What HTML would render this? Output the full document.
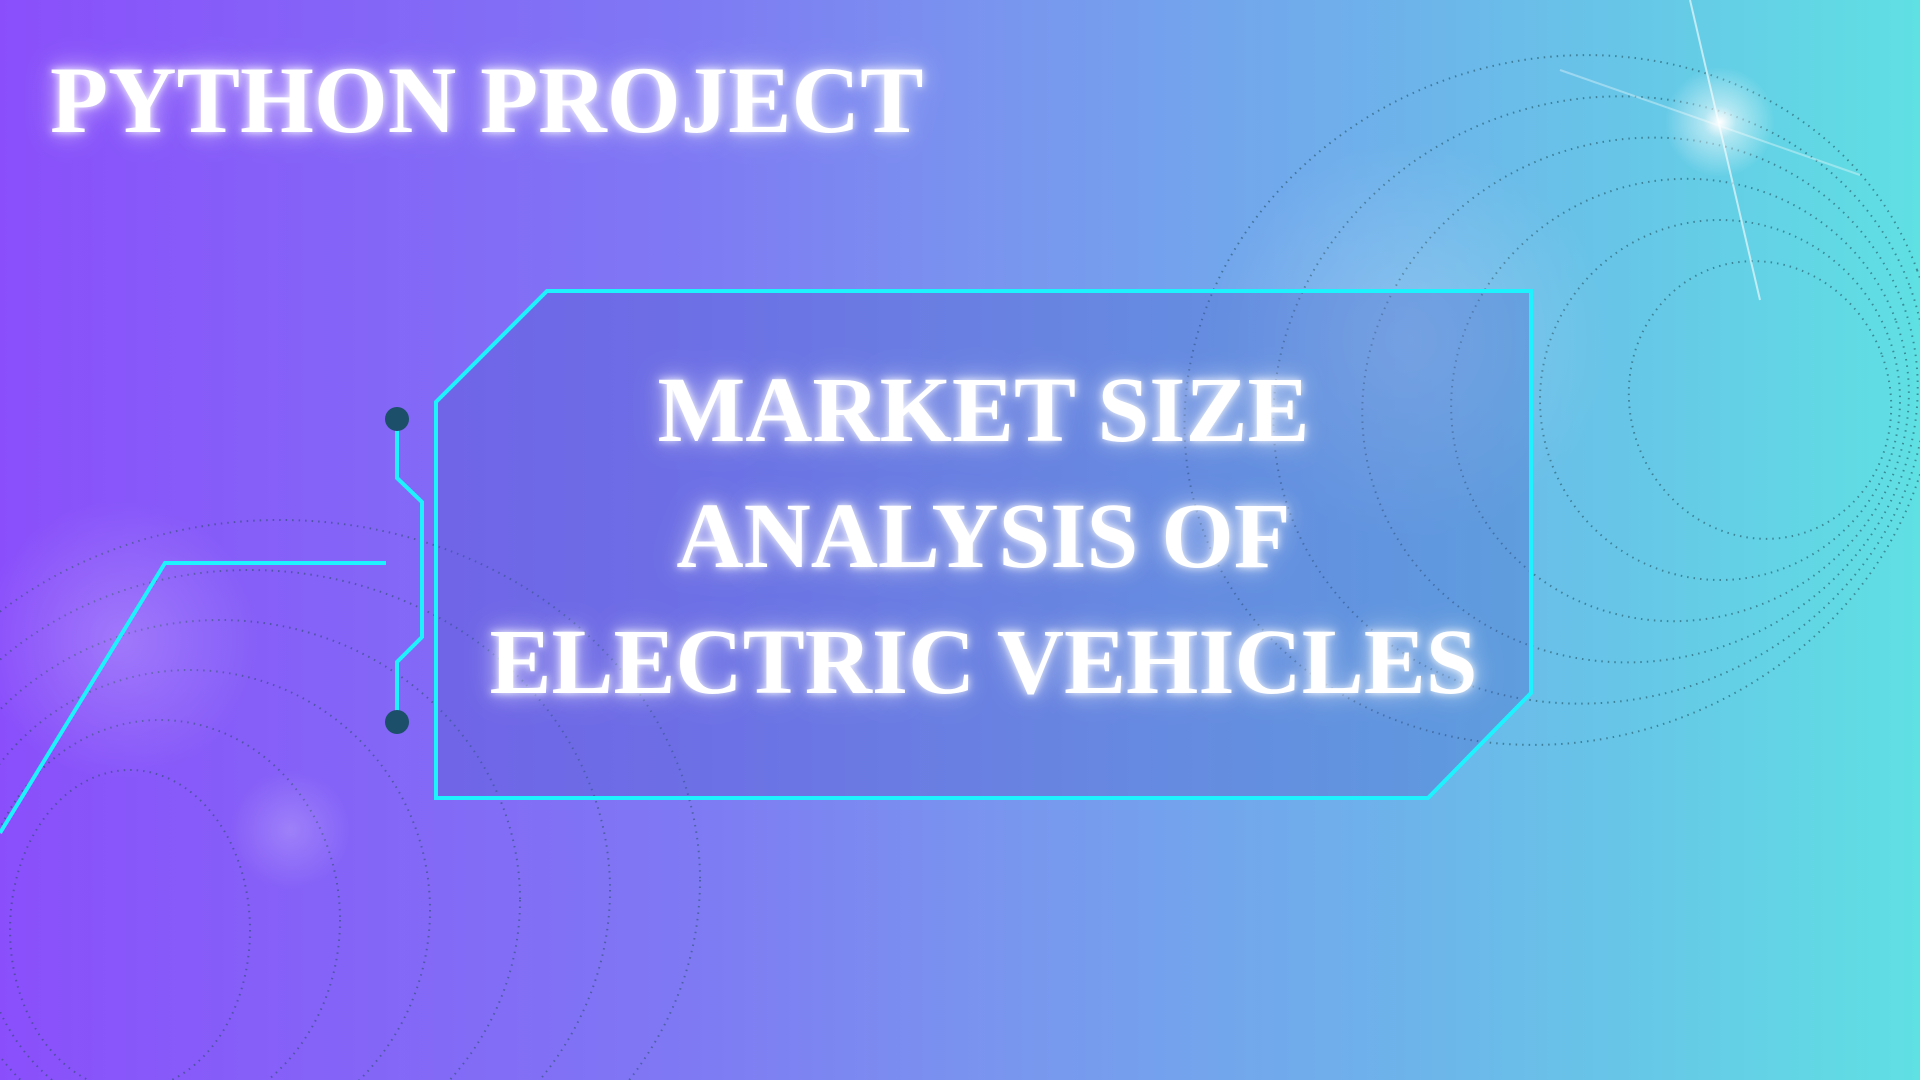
<!DOCTYPE html>
<html><head><meta charset="utf-8"><style>
html,body{margin:0;padding:0;width:1920px;height:1080px;overflow:hidden}
body{background:linear-gradient(90deg,#8a4ffb 0%,#7f78f4 35%,#7a92ef 50%,#6cb6ea 75%,#5fe0e3 100%);position:relative;font-family:"Liberation Serif",serif}
svg{position:absolute;left:0;top:0;display:block}
.t{position:absolute;color:#fff;font-weight:bold;white-space:nowrap;text-shadow:0 0 8px rgba(255,255,255,.9),0 0 20px rgba(255,255,255,.6),0 0 36px rgba(255,255,255,.35)}
#hdr{left:50px;top:48px;font-size:95px;line-height:1.1}
.m{left:436px;width:1095px;text-align:center;font-size:93px;line-height:1}
</style></head><body>
<svg width="1920" height="1080">
 <defs>
  <radialGradient id="fl" cx="50%" cy="50%" r="50%"><stop offset="0" stop-color="#fff" stop-opacity="1"/><stop offset=".3" stop-color="#fff" stop-opacity=".5"/><stop offset="1" stop-color="#fff" stop-opacity="0"/></radialGradient>
  <radialGradient id="sp" cx="50%" cy="50%" r="50%"><stop offset="0" stop-color="#fff" stop-opacity=".2"/><stop offset="1" stop-color="#fff" stop-opacity="0"/></radialGradient>
 </defs>
 <g fill="none" stroke="#1d4a5a" stroke-width="2" stroke-dasharray="1.5 5" opacity=".55">
  <ellipse cx="1560" cy="400" rx="380" ry="340" transform="rotate(-20 1560 400)"/>
  <ellipse cx="1600" cy="400" rx="330" ry="300" transform="rotate(-20 1600 400)"/>
  <ellipse cx="1640" cy="400" rx="280" ry="260" transform="rotate(-20 1640 400)"/>
  <ellipse cx="1680" cy="400" rx="230" ry="220" transform="rotate(-20 1680 400)"/>
  <ellipse cx="1720" cy="400" rx="180" ry="180" transform="rotate(-20 1720 400)"/>
  <ellipse cx="1760" cy="400" rx="130" ry="140" transform="rotate(-20 1760 400)"/>
 </g>
 <g fill="none" stroke="#1d4a5a" stroke-width="2" stroke-dasharray="1.5 5" opacity=".5">
  <ellipse cx="280" cy="880" rx="420" ry="360"/>
  <ellipse cx="250" cy="890" rx="360" ry="320"/>
  <ellipse cx="220" cy="900" rx="300" ry="280"/>
  <ellipse cx="190" cy="910" rx="240" ry="240"/>
  <ellipse cx="160" cy="920" rx="180" ry="200"/>
  <ellipse cx="130" cy="930" rx="120" ry="160"/>
 </g>
 <circle cx="120" cy="640" r="140" fill="url(#sp)"/>
 <circle cx="1410" cy="340" r="200" fill="url(#sp)"/>
 <circle cx="290" cy="830" r="60" fill="url(#sp)"/>
 <polygon points="547,291 1531,291 1531,693 1428,798 436,798 436,402" fill="rgba(70,90,200,0.32)" stroke="#1ef2ff" stroke-width="4"/>
 <polyline points="386,563 165,563 0,833" fill="none" stroke="#1ef2ff" stroke-width="4"/>
 <polyline points="397,419 397,478 422,502 422,637 397,662 397,722" fill="none" stroke="#1ef2ff" stroke-width="4"/>
 <circle cx="397" cy="419" r="12" fill="#1b4f6a"/>
 <circle cx="397" cy="722" r="12" fill="#1b4f6a"/>
 <g>
  <circle cx="1720" cy="122" r="55" fill="url(#fl)"/>
  <line x1="1690" y1="0" x2="1760" y2="300" stroke="#fff" stroke-opacity=".6" stroke-width="2"/>
  <line x1="1560" y1="70" x2="1860" y2="175" stroke="#fff" stroke-opacity=".35" stroke-width="2"/>
 </g>
</svg>
<div class="t" id="hdr">PYTHON PROJECT</div>
<div class="t m" style="top:364px">MARKET SIZE</div>
<div class="t m" style="top:490px">ANALYSIS OF</div>
<div class="t m" style="top:616px">ELECTRIC VEHICLES</div>
</body></html>
